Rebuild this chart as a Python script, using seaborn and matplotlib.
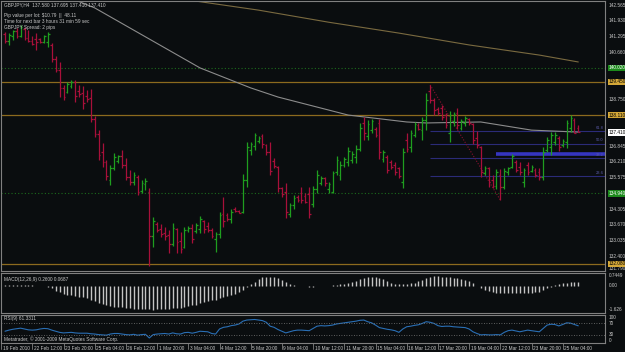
import matplotlib
matplotlib.use('Agg')
import numpy as np
import pandas as pd
import seaborn as sns
from matplotlib import pyplot as plt
from matplotlib import font_manager

'''

Data (GBPJPY H4, read off the screenshot)

'''
highs = [141.47, 141.43, 141.55, 141.64, 141.76, 141.68, 141.55, 141.31, 141.43, 141.23,
         141.35, 141.47, 141.03, 140.50, 140.26, 139.33, 139.45, 139.53, 139.53, 139.33,
         139.29, 139.12, 139.17, 138.07, 137.50, 136.98, 136.29, 136.09, 136.57, 136.49,
         136.69, 136.37, 135.89, 135.81, 135.68, 135.48, 135.56, 135.16, 133.98, 133.78,
         133.70, 133.58, 133.46, 133.74, 133.54, 133.37, 133.58, 133.62, 133.70, 133.74,
         134.02, 133.86, 133.78, 133.54, 133.37, 134.18, 134.79, 134.14, 134.31, 134.39,
         134.27, 135.72, 137.02, 137.02, 137.38, 137.26, 137.34, 136.94, 137.02, 136.37,
         136.05, 135.20, 135.36, 134.55, 134.87, 134.87, 135.20, 134.95, 135.20, 135.24,
         135.89, 135.64, 135.60, 135.40, 135.85, 136.45, 136.25, 136.41, 136.82, 136.65,
         136.90, 137.79, 138.03, 137.91, 137.95, 137.63, 137.95, 136.69, 136.49, 136.29,
         136.21, 136.01, 136.78, 137.38, 137.50, 137.83, 137.79, 138.03, 139.00, 139.33,
         138.80, 138.44, 138.52, 138.19, 138.27, 138.23, 138.40, 137.95, 138.07, 137.99,
         137.79, 137.46, 136.86, 136.05, 136.01, 135.68, 135.93, 135.93, 135.97, 136.01,
         136.53, 136.29, 136.21, 135.97, 136.21, 136.09, 135.97, 135.97, 136.82, 137.22,
         137.42, 137.42, 137.26, 137.14, 137.91, 138.11, 137.99, 137.70]
lows = [141.03, 140.95, 141.15, 141.23, 141.27, 141.15, 141.07, 140.95, 140.74, 141.03,
        141.03, 140.87, 140.26, 139.85, 138.84, 138.72, 139.00, 139.21, 138.64, 138.84,
        138.36, 138.64, 137.83, 137.22, 136.29, 136.01, 135.48, 135.28, 135.89, 136.17,
        135.97, 135.48, 135.28, 135.28, 134.87, 134.95, 135.08, 131.99, 132.77, 133.37,
        133.17, 133.05, 132.52, 132.81, 132.52, 132.52, 132.73, 133.37, 132.93, 133.33,
        133.33, 133.33, 133.37, 133.13, 132.56, 133.13, 133.58, 133.82, 133.74, 134.18,
        134.14, 134.14, 135.20, 136.49, 136.69, 136.98, 136.78, 136.49, 135.68, 135.97,
        134.99, 134.79, 133.94, 133.98, 134.31, 134.59, 134.55, 134.55, 133.94, 134.39,
        134.95, 135.28, 135.24, 134.95, 134.95, 135.68, 135.48, 136.01, 136.05, 136.17,
        136.17, 136.65, 137.10, 137.10, 137.38, 137.22, 136.33, 136.21, 135.76, 135.93,
        135.68, 135.56, 135.16, 136.61, 136.61, 137.22, 137.50, 137.10, 137.50, 138.60,
        138.11, 138.11, 137.91, 137.59, 137.02, 137.67, 137.55, 137.50, 137.67, 137.71,
        136.94, 136.78, 135.60, 135.68, 135.20, 135.16, 135.12, 134.67, 135.12, 135.68,
        135.97, 135.81, 135.68, 135.20, 135.68, 135.81, 135.60, 135.48, 135.48, 136.61,
        136.49, 136.90, 136.65, 136.82, 136.78, 137.42, 137.38, 137.41]
opens = [141.40, 141.10, 141.30, 141.50, 141.32, 141.60, 141.25, 141.12, 141.20, 141.18,
         141.08, 141.05, 140.95, 140.40, 139.95, 139.20, 139.05, 139.30, 139.45, 139.10,
         139.00, 138.90, 138.80, 137.95, 137.35, 136.60, 136.20, 135.50, 135.95, 136.25,
         136.45, 136.10, 135.60, 135.40, 135.60, 135.05, 135.30, 135.00, 133.20, 133.70,
         133.50, 133.35, 133.25, 132.90, 133.50, 133.00, 132.75, 133.45, 133.55, 133.40,
         133.50, 133.80, 133.60, 133.45, 133.10, 133.30, 134.10, 134.05, 133.90, 134.30,
         134.22, 134.20, 135.50, 136.70, 136.85, 137.05, 137.25, 136.90, 136.60, 136.25,
         136.00, 135.15, 135.00, 134.10, 134.45, 134.80, 134.95, 134.85, 134.90, 134.50,
         135.10, 135.35, 135.55, 135.10, 135.00, 135.80, 135.70, 136.10, 136.20, 136.30,
         136.40, 136.75, 137.80, 137.25, 137.50, 137.55, 137.80, 136.35, 136.40, 136.20,
         136.10, 135.95, 135.40, 137.10, 136.80, 137.30, 137.70, 137.50, 137.90, 139.10,
         138.70, 138.35, 138.40, 138.10, 137.40, 137.85, 138.20, 137.60, 137.80, 137.95,
         137.75, 137.20, 136.80, 135.75, 135.95, 135.50, 135.25, 135.70, 135.20, 135.80,
         136.00, 136.20, 136.00, 135.40, 136.10, 135.85, 135.90, 135.80, 135.60, 136.70,
         136.80, 137.00, 137.20, 136.90, 137.00, 137.60, 137.90, 137.58]
closes = [141.10, 141.35, 141.50, 141.30, 141.68, 141.25, 141.12, 141.00, 141.05, 141.08,
          141.30, 141.40, 140.40, 139.95, 139.20, 138.85, 139.35, 139.45, 138.90, 138.95,
          138.60, 138.75, 137.95, 137.35, 136.50, 136.20, 135.65, 135.95, 136.40, 136.45,
          136.10, 135.60, 135.40, 135.70, 135.00, 135.35, 135.45, 133.20, 133.80, 133.45,
          133.30, 133.20, 132.90, 133.55, 132.95, 132.70, 133.45, 133.55, 133.10, 133.65,
          133.90, 133.50, 133.45, 133.20, 133.30, 134.05, 133.80, 133.90, 134.20, 134.22,
          134.16, 135.50, 136.80, 136.95, 137.30, 137.20, 136.95, 136.60, 135.85, 136.05,
          135.15, 134.90, 134.20, 134.45, 134.75, 134.65, 134.65, 134.60, 134.10, 135.10,
          135.70, 135.55, 135.35, 135.30, 135.75, 136.30, 136.10, 136.35, 136.65, 136.55,
          136.75, 137.60, 137.40, 137.75, 137.85, 137.30, 136.60, 136.60, 135.90, 136.00,
          135.80, 135.65, 136.60, 136.75, 137.40, 137.75, 137.55, 137.90, 138.70, 138.70,
          138.30, 138.20, 138.05, 137.70, 138.10, 138.15, 137.70, 137.85, 138.00, 137.80,
          137.10, 136.90, 135.80, 135.95, 135.40, 135.25, 135.80, 135.20, 135.85, 135.95,
          136.45, 135.90, 135.80, 135.90, 135.80, 136.00, 135.70, 135.60, 136.60, 137.10,
          137.30, 137.30, 136.80, 137.05, 137.80, 138.00, 137.40, 137.41]

macd = [0.05, 0.06, 0.06, 0.05, 0.05, 0.04, 0.03, 0.02, 0.00, -0.02,
        -0.05, -0.10, -0.20, -0.35, -0.45, -0.55, -0.62, -0.65, -0.70, -0.75,
        -0.80, -0.85, -0.95, -1.05, -1.15, -1.25, -1.35, -1.40, -1.42, -1.45,
        -1.48, -1.52, -1.55, -1.57, -1.60, -1.60, -1.60, -1.62, -1.626, -1.62,
        -1.62, -1.60, -1.60, -1.55, -1.55, -1.50, -1.45, -1.40, -1.35, -1.30,
        -1.20, -1.13, -1.07, -1.00, -0.95, -0.85, -0.80, -0.72, -0.62, -0.55,
        -0.45, -0.30, -0.12, 0.08, 0.26, 0.44, 0.55, 0.55, 0.55, 0.55,
        0.48, 0.37, 0.21, 0.10, 0.01, -0.02, -0.03, -0.05, -0.07, -0.07,
        -0.05, -0.05, -0.03, -0.03, 0.02, 0.05, 0.08, 0.12, 0.18, 0.25,
        0.32, 0.42, 0.50, 0.56, 0.60, 0.58, 0.50, 0.42, 0.30, 0.20,
        0.12, 0.08, 0.08, 0.12, 0.15, 0.20, 0.28, 0.38, 0.50, 0.60,
        0.65, 0.64, 0.60, 0.58, 0.55, 0.50, 0.48, 0.45, 0.38, 0.30,
        0.15, -0.05, -0.20, -0.30, -0.38, -0.45, -0.50, -0.52, -0.53, -0.53,
        -0.53, -0.53, -0.53, -0.52, -0.50, -0.48, -0.45, -0.42, -0.30, -0.19,
        -0.08, 0.01, 0.10, 0.15, 0.20, 0.24, 0.25, 0.26]

rsi = [42, 46, 49, 51, 53, 50, 47, 46, 47, 50,
       52, 51, 46, 42, 38, 36, 37, 38, 36, 35,
       35, 35, 33, 32, 30, 29, 28, 32, 34, 34,
       32, 30, 29, 31, 28, 30, 31, 18, 30, 32,
       33, 34, 32, 36, 33, 32, 37, 38, 35, 38,
       42, 41, 40, 34, 32, 50, 56, 58, 62, 64,
       68, 78, 82, 83, 84, 82, 80, 74, 60, 56,
       48, 42, 36, 40, 44, 46, 46, 45, 44, 52,
       60, 62, 61, 62, 64, 68, 70, 72, 74, 76,
       78, 81, 82, 76, 72, 64, 55, 52, 49, 47,
       44, 38, 50, 58, 60, 63, 65, 70, 76, 74,
       70, 62, 59, 60, 60, 58, 57, 56, 55, 50,
       40, 34, 29, 30, 29, 29, 30, 29, 38, 44,
       46, 43, 40, 43, 46, 44, 42, 40, 52, 64,
       67, 66, 61, 66, 72, 71, 66, 61.33]

# moving averages (bar index, price)
ma_fast_bar = [18, 23, 37, 50, 63, 70, 88, 103, 108, 122, 135, 147]
ma_fast = [142.77, 142.45, 141.19, 140.02, 139.21, 138.84, 138.11, 137.83, 137.79, 137.83, 137.50, 137.42]
ma_slow_bar = [47, 65, 83, 101, 119, 137, 147]
ma_slow = [142.77, 142.36, 141.87, 141.43, 140.95, 140.54, 140.26]

# horizontal objects
orange_levels = [139.45, 138.11, 132.08]
orange_text = ['139.450', '138.110', '132.080']
green_levels = [140.02, 134.94]
green_text = ['140.020', '134.940']
fib_levels = [137.46, 136.94, 136.37, 135.64]
fib_text = ['61.8', '50.0', '38.2', '23.6']
fib_start = 109
fib_line_bar = [109, 127]
fib_line_price = [139.33, 134.67]
blue_level = 136.53
blue_start = 126
bid = 137.41

price_ticks = [142.565, 141.930, 141.295, 140.660, 138.750, 136.845, 136.210,
               135.575, 134.305, 133.670, 133.035, 132.400]
price_bottom = 131.790

date_bars = [-1, 7, 15, 23, 31, 39, 47, 55, 63, 71, 79, 87, 95, 103, 111, 119, 127, 135, 143]
date_text = ['19 Feb 2010', '22 Feb 12:00', '23 Feb 20:00', '25 Feb 04:00', '26 Feb 12:00',
             '1 Mar 20:00', '3 Mar 04:00', '4 Mar 12:00', '5 Mar 20:00', '9 Mar 04:00',
             '10 Mar 12:00', '11 Mar 20:00', '15 Mar 04:00', '16 Mar 12:00', '17 Mar 20:00',
             '19 Mar 04:00', '22 Mar 12:00', '23 Mar 20:00', '25 Mar 04:00']

header = ['GBPJPY,H4  137.580 137.695 137.410 137.410',
          'Pip value per lot: $10.79  ||  48.11',
          'Time for next bar 3 hours 31 min 59 sec',
          'GBPJPY Spread: 2 pips']

'''

Style

'''
BG = '#0a0d0f'
FG = '#c8c8c8'
GRID = '#808080'
UP = '#1f9e1f'
DOWN = '#a8103a'

sns.set_style('dark', {'axes.facecolor': BG, 'figure.facecolor': BG})
names = {f.name for f in font_manager.fontManager.ttflist}
if 'Liberation Sans Narrow' in names:
    fam, fs = 'Liberation Sans Narrow', 4.0
else:
    fam, fs = 'Liberation Sans', 3.4
plt.rcParams['font.family'] = [fam, 'DejaVu Sans']

W, H = 625, 352


def box(l, t, r, b):
    return [l / W, 1 - b / H, (r - l) / W, (b - t) / H]


fig = plt.figure(figsize=(W / 100, H / 100), dpi=100)
fig.patch.set_facecolor(BG)
ax = fig.add_axes(box(1, 1, 605, 271))
axm = fig.add_axes(box(1, 273, 605, 313))
axr = fig.add_axes(box(1, 315, 605, 343))

xl = (-4 / 3.9, 600 / 3.9)
for a in [ax, axm, axr]:
    a.set_facecolor(BG)
    a.set_xlim(xl)
    a.set_xticks([])
    a.set_yticks([])
    a.grid(False)
    for s in a.spines.values():
        s.set_color(GRID)
        s.set_linewidth(0.8)

ax.set_ylim(131.7945, 142.7295)
axm.set_ylim(-1.858, 0.845)
axr.set_ylim(0, 100)

bars = pd.DataFrame({'o': opens, 'h': highs, 'l': lows, 'c': closes})
bars['x'] = np.arange(len(bars))
cols = np.where(bars.c >= bars.o, UP, DOWN)

# horizontal lines first (behind the bars)
for lv in orange_levels:
    ax.axhline(lv, color='#8c6a1e', lw=0.9)
for lv in green_levels:
    ax.axhline(lv, color='#1d6b1d', lw=0.8, ls=(0, (1, 2)))
ax.hlines(fib_levels, fib_start, xl[1], colors='#2b2b78', lw=0.8)
ax.hlines(blue_level, blue_start, xl[1], colors='#3535c0', lw=2.6)
ax.plot(fib_line_bar, fib_line_price, color='#8a1030', lw=0.8, ls=(0, (1, 1.5)))
for lv, t in zip(fib_levels, fib_text):
    ax.text(xl[1] - 0.4, lv + 0.06, t, ha='right', va='bottom', color='#5a5aa8', fontsize=fs * 0.85)

sns.lineplot(x=ma_slow_bar, y=ma_slow, ax=ax, color='#7a6a40', lw=0.8)
sns.lineplot(x=ma_fast_bar, y=ma_fast, ax=ax, color='#8c8c8c', lw=0.8)

ax.vlines(bars.x, bars.l, bars.h, colors=cols, lw=0.9)
ax.hlines(bars.o, bars.x - 0.45, bars.x, colors=cols, lw=0.9)
ax.hlines(bars.c, bars.x, bars.x + 0.45, colors=cols, lw=0.9)

# right price scale
yt = ax.get_yaxis_transform()
for p in price_ticks:
    ax.text(1.006, p, '%.3f' % p, transform=yt, color=FG, fontsize=fs, va='center', clip_on=False)
ax.text(1.006, price_bottom, '%.3f' % price_bottom, transform=yt, color=FG, fontsize=fs,
        va='bottom', clip_on=False)
for lv, t in zip(orange_levels, orange_text):
    ax.text(1.006, lv, t, transform=yt, color='black', fontsize=fs, va='center', clip_on=False,
            bbox=dict(boxstyle='square,pad=0.15', fc='#d4a838', ec='none'))
for lv, t in zip(green_levels, green_text):
    ax.text(1.006, lv, t, transform=yt, color='white', fontsize=fs, va='center', clip_on=False,
            bbox=dict(boxstyle='square,pad=0.15', fc='#1c8a1c', ec='none'))
ax.text(1.006, bid, '%.3f' % bid, transform=yt, color='black', fontsize=fs, va='center', clip_on=False,
        bbox=dict(boxstyle='square,pad=0.15', fc='white', ec='none'))

# MACD
axm.vlines(bars.x, 0, macd, colors='#c4c4c4', lw=1.0)
ym = axm.get_yaxis_transform()
for v, t, va in [(0.845, '0.7449', 'top'), (0.0, '0.00', 'center'), (-1.626, '-1.626', 'center')]:
    axm.text(1.006, v, t, transform=ym, color=FG, fontsize=fs, va=va, clip_on=False)

# RSI
sns.lineplot(x=bars.x, y=rsi, ax=axr, color='#2a6fb5', lw=0.8)
for lv in [70, 30]:
    axr.axhline(lv, color='#7a7a7a', lw=0.6, ls=(0, (1, 2)))
yr = axr.get_yaxis_transform()
for v, t in [(92, '100'), (70, '70'), (30, '30'), (10, '0')]:
    axr.text(1.006, v, t, transform=yr, color=FG, fontsize=fs, va='center', clip_on=False)

# date scale
xr = axr.get_xaxis_transform()
for b, t in zip(date_bars, date_text):
    axr.plot([b, b], [0, -0.22], color=GRID, lw=0.6, transform=xr, clip_on=False)
    axr.text(b + 0.4, -0.18, t, transform=xr, color=FG, fontsize=fs, va='center', clip_on=False)

# overlay texts


def ftext(x, y, s, **kw):
    fig.text(x / W, 1 - y / H, s, fontsize=fs, va='center', color=FG, **kw)


for k, t in enumerate(header):
    ftext(4, [5, 15, 21.5, 27.5][k], t)
ftext(4, 279, 'MACD(12,26,9) 0.2600 0.0687')
ftext(4, 318.5, 'RSI(9) 61.3311')
ftext(4, 339, 'Metatrader, \u00a9 2001-2009 MetaQuotes Software Corp.')

plt.savefig('out.png', dpi=100, facecolor=BG)
plt.close()
